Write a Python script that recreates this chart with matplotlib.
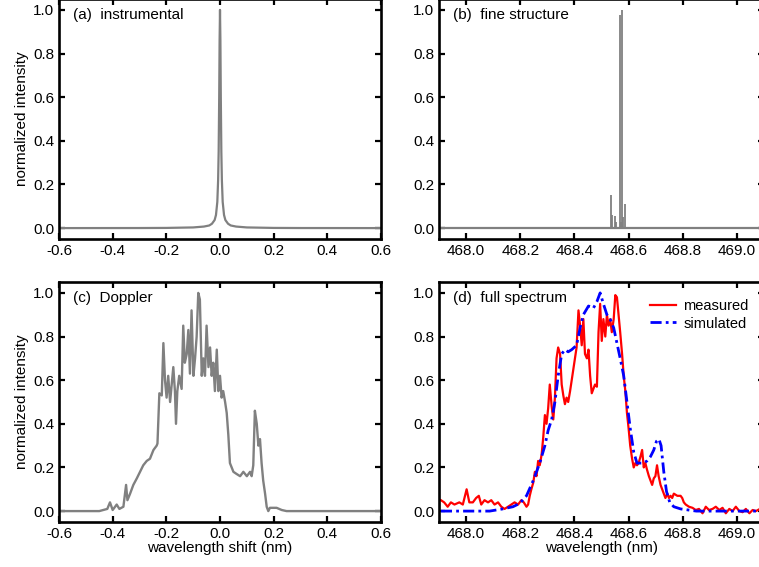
import numpy as np
import matplotlib
matplotlib.use("Agg")
import matplotlib.pyplot as plt

plt.rcParams['font.family'] = ['Liberation Sans', 'DejaVu Sans']
plt.rcParams['font.size'] = 11

# (a) instrumental function
instr_x = [-0.6, -0.3, -0.2, -0.1, -0.06, -0.04, -0.03, -0.02, -0.015, -0.01, -0.007,
           -0.005, -0.003, -0.0015, 0.0, 0.0015, 0.003, 0.005, 0.007, 0.01, 0.015,
           0.02, 0.03, 0.04, 0.06, 0.1, 0.2, 0.3, 0.6]
instr_y = [0.0, 0.0003, 0.0008, 0.003, 0.007, 0.012, 0.02, 0.037, 0.06, 0.12, 0.22,
           0.35, 0.6, 0.86, 1.0, 0.86, 0.6, 0.35, 0.22, 0.12, 0.06,
           0.037, 0.02, 0.012, 0.007, 0.003, 0.0008, 0.0003, 0.0]

# (b) fine structure components
fs_wl = [468.534, 468.540, 468.548, 468.552, 468.567, 468.571, 468.576, 468.580, 468.586]
fs_int = [0.15, 0.06, 0.055, 0.03, 0.975, 0.03, 1.0, 0.05, 0.11]

# (c) Doppler profile
dop_x = [-0.6, -0.45, -0.42, -0.41, -0.40, -0.385, -0.375, -0.36, -0.35, -0.345,
         -0.335, -0.323, -0.31, -0.298, -0.286, -0.273, -0.261, -0.248, -0.236, -0.233,
         -0.226, -0.217, -0.211, -0.205, -0.199, -0.193, -0.186, -0.180, -0.174, -0.168,
         -0.164, -0.159, -0.152, -0.143, -0.137, -0.131, -0.124, -0.118, -0.112, -0.106,
         -0.099, -0.093, -0.087, -0.081, -0.075, -0.068, -0.062, -0.056, -0.050, -0.043,
         -0.037, -0.031, -0.025, -0.019, -0.012, -0.006, 0.0, 0.006, 0.012, 0.019,
         0.025, 0.031, 0.037, 0.050, 0.062, 0.075, 0.087, 0.100, 0.112, 0.118,
         0.124, 0.130, 0.137, 0.143, 0.149, 0.155, 0.161, 0.168, 0.174, 0.180,
         0.186, 0.211, 0.230, 0.248, 0.6]
dop_y = [0.0, 0.0, 0.01, 0.04, 0.005, 0.03, 0.01, 0.02, 0.12, 0.05,
         0.08, 0.12, 0.15, 0.18, 0.21, 0.23, 0.24, 0.28, 0.30, 0.31,
         0.54, 0.53, 0.77, 0.60, 0.52, 0.62, 0.50, 0.58, 0.66, 0.55,
         0.40, 0.55, 0.62, 0.56, 0.85, 0.68, 0.72, 0.83, 0.63, 0.92,
         0.62, 0.70, 0.80, 1.0, 0.97, 0.62, 0.70, 0.62, 0.85, 0.66,
         0.75, 0.62, 0.68, 0.55, 0.74, 0.55, 0.62, 0.52, 0.55, 0.50,
         0.45, 0.35, 0.22, 0.18, 0.17, 0.16, 0.18, 0.16, 0.18, 0.16,
         0.21, 0.46, 0.40, 0.30, 0.33, 0.22, 0.14, 0.08, 0.02, 0.0,
         0.015, 0.015, 0.005, 0.0, 0.0]

# (d) measured spectrum
meas_wl = [467.907, 467.919, 467.932, 467.944, 467.957, 467.975, 467.988, 468.002, 468.012, 468.025,
           468.037, 468.047, 468.056, 468.068, 468.081, 468.093, 468.105, 468.118, 468.130, 468.142,
           468.155, 468.167, 468.179, 468.192, 468.204, 468.213, 468.223, 468.229, 468.235, 468.241,
           468.248, 468.254, 468.260, 468.266, 468.272, 468.279, 468.285, 468.291, 468.297, 468.303,
           468.309, 468.316, 468.322, 468.328, 468.334, 468.340, 468.347, 468.353, 468.359, 468.365,
           468.371, 468.377, 468.384, 468.390, 468.396, 468.402, 468.408, 468.415, 468.421, 468.427,
           468.433, 468.439, 468.446, 468.452, 468.458, 468.464, 468.470, 468.476, 468.483, 468.489,
           468.495, 468.501, 468.507, 468.514, 468.520, 468.526, 468.532, 468.538, 468.545, 468.551,
           468.557, 468.563, 468.569, 468.576, 468.582, 468.588, 468.594, 468.600, 468.606, 468.613,
           468.619, 468.625, 468.631, 468.637, 468.644, 468.650, 468.656, 468.662, 468.668, 468.675,
           468.681, 468.687, 468.693, 468.699, 468.705, 468.711, 468.718, 468.724, 468.730, 468.736,
           468.743, 468.749, 468.755, 468.761, 468.767, 468.780, 468.792, 468.798, 468.804, 468.811,
           468.823, 468.836, 468.848, 468.860, 468.873, 468.885, 468.897, 468.910, 468.922, 468.935,
           468.947, 468.959, 468.972, 468.984, 468.996, 469.009, 469.021, 469.033, 469.046, 469.058,
           469.070, 469.085]
meas_int = [0.05, 0.04, 0.02, 0.04, 0.03, 0.04, 0.03, 0.10, 0.04, 0.04,
            0.06, 0.07, 0.03, 0.05, 0.04, 0.05, 0.03, 0.04, 0.02, 0.01,
            0.02, 0.03, 0.04, 0.03, 0.05, 0.04, 0.02, 0.03, 0.07, 0.10,
            0.13, 0.18, 0.16, 0.23, 0.21, 0.26, 0.34, 0.44, 0.40, 0.47,
            0.58, 0.48, 0.42, 0.52, 0.70, 0.75, 0.72, 0.58, 0.53, 0.49,
            0.52, 0.50, 0.55, 0.60, 0.65, 0.70, 0.75, 0.92, 0.85, 0.76,
            0.88, 0.72, 0.70, 0.74, 0.62, 0.54, 0.56, 0.58, 0.57, 0.82,
            0.95, 0.78, 0.88, 0.80, 0.90, 0.85, 0.88, 0.82, 0.88, 0.99,
            0.98, 0.90, 0.82, 0.72, 0.62, 0.55, 0.45, 0.38, 0.30, 0.24,
            0.20, 0.22, 0.21, 0.22, 0.25, 0.28, 0.20, 0.22, 0.19, 0.16,
            0.14, 0.12, 0.15, 0.16, 0.21, 0.16, 0.12, 0.10, 0.08, 0.06,
            0.08, 0.06, 0.07, 0.06, 0.08, 0.07, 0.07, 0.06, 0.04, 0.03,
            0.02, 0.015, 0.005, 0.01, -0.01, 0.02, 0.005, 0.01, 0.02, 0.005,
            0.015, -0.01, 0.01, 0.0, 0.02, 0.0, -0.005, 0.01, -0.01, 0.005,
            0.0, 0.01]

# (d) simulated spectrum
sim_wl = [467.907, 468.0, 468.087, 468.136, 468.173, 468.198, 468.223, 468.248, 468.272, 468.291,
          468.303, 468.316, 468.328, 468.340, 468.353, 468.365, 468.377, 468.390, 468.408, 468.421,
          468.433, 468.452, 468.470, 468.483, 468.495, 468.507, 468.520, 468.532, 468.545, 468.557,
          468.569, 468.582, 468.594, 468.606, 468.619, 468.631, 468.644, 468.656, 468.668, 468.681,
          468.693, 468.703, 468.712, 468.720, 468.730, 468.740, 468.752, 468.767, 468.792, 468.850,
          469.085]
sim_int = [0.0, 0.0, 0.0, 0.01, 0.02, 0.035, 0.07, 0.14, 0.22, 0.30,
           0.37, 0.42, 0.50, 0.62, 0.72, 0.74, 0.73, 0.74, 0.76, 0.84,
           0.90, 0.94, 0.93, 0.96, 1.0, 0.95, 0.90, 0.88, 0.84, 0.77,
           0.70, 0.62, 0.50, 0.38, 0.27, 0.22, 0.22, 0.22, 0.23, 0.25,
           0.28, 0.32, 0.33, 0.30, 0.18, 0.09, 0.04, 0.02, 0.01, 0.0,
           0.0]

W, H = 759, 567
GRAY = '#808080'
FS = 11

fig = plt.figure(figsize=(W / 100, H / 100), dpi=100)


def make_ax(l, r, t, b):
    ax = fig.add_axes([l / W, 1 - b / H, (r - l) / W, (b - t) / H])
    for s in ax.spines.values():
        s.set_linewidth(1.9)
    ax.tick_params(direction='in', length=4.5, width=1.6, top=True, right=True,
                   labelsize=FS, pad=3.5)
    ax.set_ylim(-0.05, 1.05)
    ax.set_yticks([0.0, 0.2, 0.4, 0.6, 0.8, 1.0])
    ax.yaxis.set_major_formatter(matplotlib.ticker.FormatStrFormatter('%.1f'))
    ax.xaxis.set_major_formatter(matplotlib.ticker.FormatStrFormatter('%.1f'))
    return ax


ax_a = make_ax(59, 381, -1, 239)
ax_b = make_ax(439, 764, -1, 239)
ax_c = make_ax(59, 381, 282, 522)
ax_d = make_ax(439, 764, 282, 522)

for ax in (ax_a, ax_c):
    ax.set_xlim(-0.6, 0.6)
    ax.set_xticks([-0.6, -0.4, -0.2, 0.0, 0.2, 0.4, 0.6])
    ax.set_ylabel('normalized intensity', fontsize=FS, labelpad=3)
for ax in (ax_b, ax_d):
    ax.set_xlim(467.9, 469.1)
    ax.set_xticks([468.0, 468.2, 468.4, 468.6, 468.8, 469.0])

ax_a.plot(instr_x, instr_y, color=GRAY, lw=1.6)

ax_b.axhline(0, color=GRAY, lw=1.6)
ax_b.vlines(fs_wl, 0, fs_int, color=GRAY, lw=1.3)

ax_c.plot(dop_x, dop_y, color=GRAY, lw=1.7)
ax_c.set_xlabel('wavelength shift (nm)', fontsize=FS, labelpad=0)

ax_d.plot(meas_wl, meas_int, color='#ff0000', lw=1.6, label='measured')
ax_d.plot(sim_wl, sim_int, color='#0000ff', lw=2.0, ls=(0, (4, 1.5, 1, 1.5)), label='simulated')
ax_d.set_xlabel('wavelength (nm)', fontsize=FS, labelpad=0)
ax_d.legend(loc='upper right', bbox_to_anchor=(0.975, 0.96), frameon=False, borderpad=0,
            handlelength=1.8, handletextpad=0.5, labelspacing=0.25, fontsize=10.5)

labels = ['(a)  instrumental', '(b)  fine structure', '(c)  Doppler', '(d)  full spectrum']
for ax, lab in zip((ax_a, ax_b, ax_c, ax_d), labels):
    ax.text(0.043, 0.935, lab, transform=ax.transAxes, va='center', ha='left', fontsize=FS)

fig.savefig('out.png', dpi=100)
